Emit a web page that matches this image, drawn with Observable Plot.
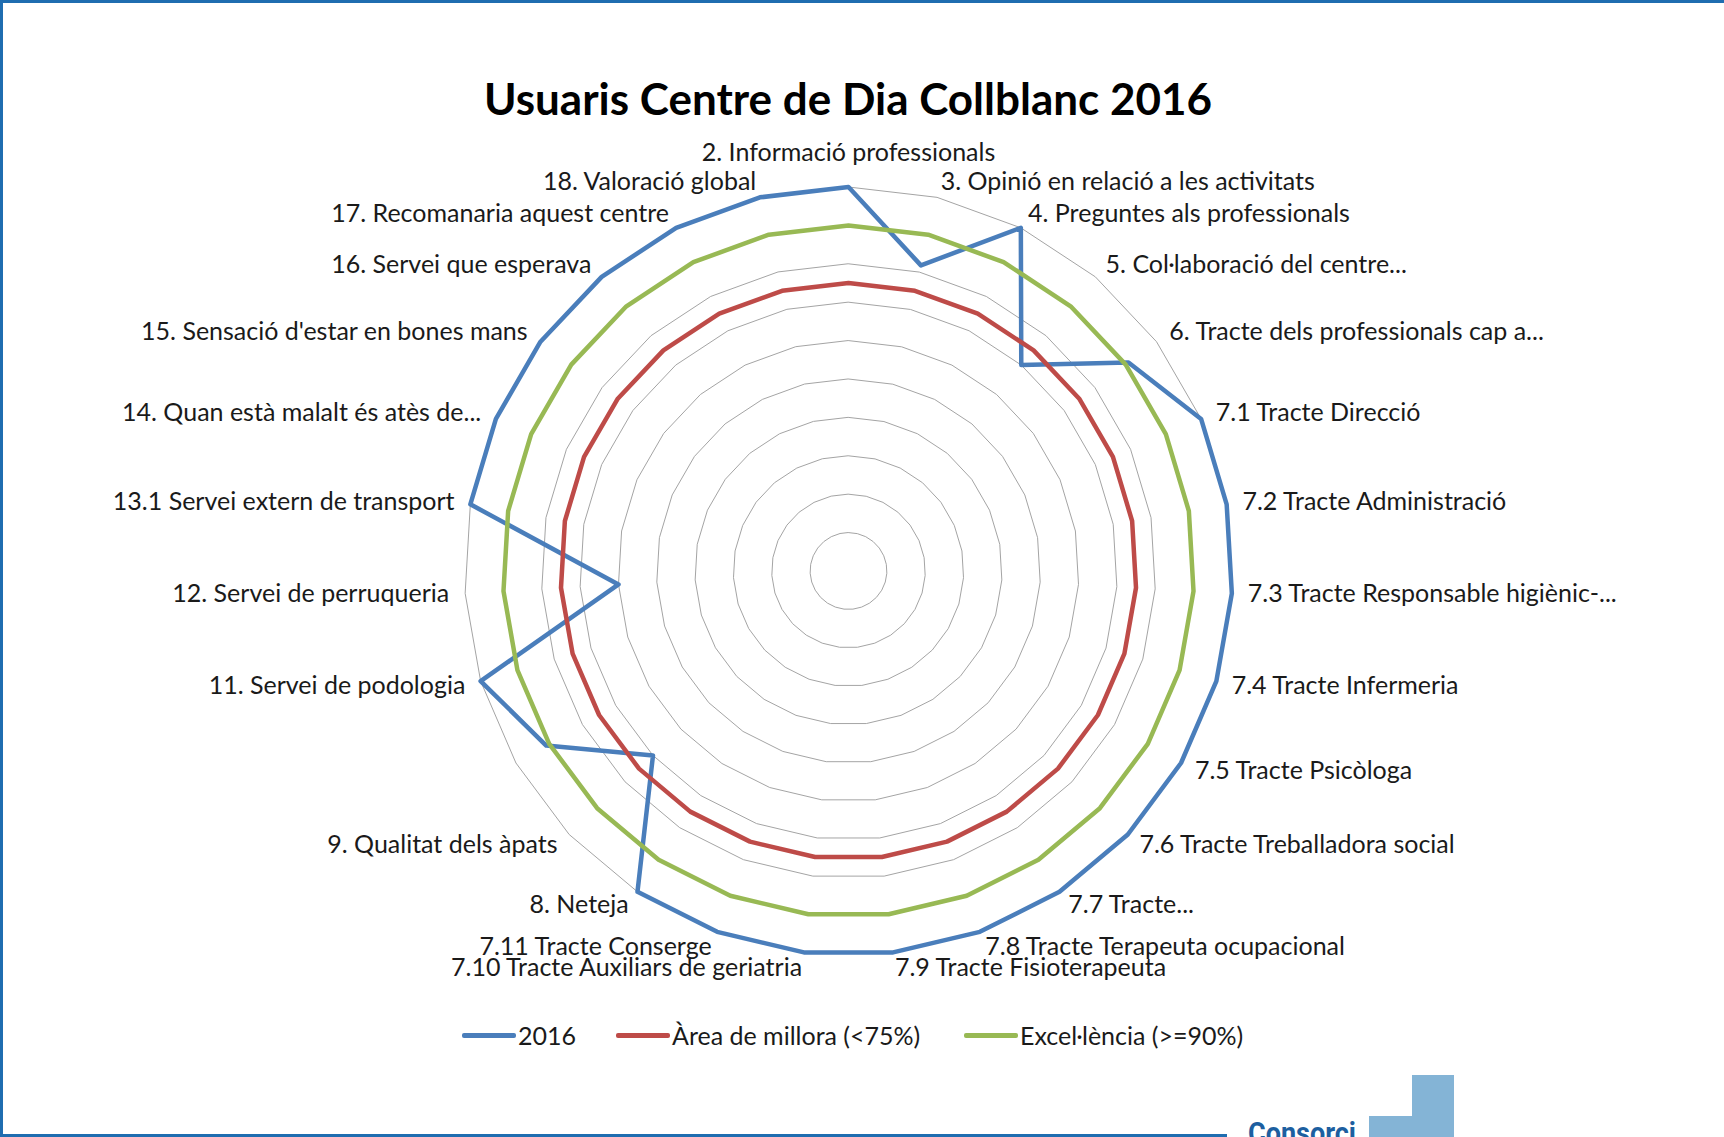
<!DOCTYPE html>
<html>
<head>
<meta charset="utf-8">
<script src="https://cdn.jsdelivr.net/npm/d3@7"></script>
<script src="https://cdn.jsdelivr.net/npm/@observablehq/plot@0.6"></script>
<style>
  html, body { margin: 0; padding: 0; background: #fff; width: 1724px; height: 1137px; overflow: hidden; font-family: Lato, "Open Sans", sans-serif; }
  #page { position: relative; width: 1724px; height: 1137px; }
  .bar { position: absolute; background: #1f6db0; }
  #title { position: absolute; left: 0; width: 1696px; top: 72px; line-height: 52px; text-align: center; font-weight: 700; font-size: 44px; color: #000; }
  #chart { position: absolute; left: 0; top: 130px; }
  .leg { position: absolute; top: 1020px; height: 30px; display: flex; align-items: center; font-size: 25px; color: #1a1a1a; }
  .leg .sw { width: 54px; height: 5px; border-radius: 2px; margin-right: 2px; }
  #logoText { position: absolute; left: 1248px; top: 1118px; font-family: Roboto, sans-serif; font-weight: 700; font-size: 30px; line-height: 1; color: #1d5fa0; transform: scaleX(0.9); transform-origin: left top; }
  .lb { position: absolute; background: #84b4d6; }
</style>
</head>
<body>
<div id="page">
  <div class="bar" style="left:0;top:0;width:1724px;height:3px"></div>
  <div class="bar" style="left:0;top:0;width:3px;height:1137px"></div>
  <div class="bar" style="left:0;top:1134px;width:1227px;height:3px"></div>
  <div id="title">Usuaris Centre de Dia Collblanc 2016</div>
  <div id="chart"></div>
  <div id="legend"></div>
  <div class="lb" style="left:1412px;top:1075px;width:42px;height:62px"></div>
  <div class="lb" style="left:1369px;top:1116px;width:44px;height:21px"></div>
  <div id="logoText">Consorci</div>
</div>
<script>
// ---- Data ----
const categories = [
  "2. Informació professionals",
  "3. Opinió en relació a les activitats",
  "4. Preguntes als professionals",
  "5. Col·laboració del centre...",
  "6. Tracte dels professionals cap a...",
  "7.1 Tracte Direcció",
  "7.2 Tracte Administració",
  "7.3 Tracte Responsable higiènic-...",
  "7.4 Tracte Infermeria",
  "7.5 Tracte Psicòloga",
  "7.6 Tracte Treballadora social",
  "7.7 Tracte...",
  "7.8 Tracte Terapeuta ocupacional",
  "7.9 Tracte Fisioterapeuta",
  "7.10 Tracte Auxiliars de geriatria",
  "7.11 Tracte Conserge",
  "8. Neteja",
  "9. Qualitat dels àpats",
  "",
  "11. Servei de podologia",
  "12. Servei de perruqueria",
  "13.1 Servei extern de transport",
  "14. Quan està malalt és atès de...",
  "15. Sensació d'estar en bones mans",
  "16. Servei que esperava",
  "17. Recomanaria aquest centre",
  "18. Valoració global"
];
const values2016 = [100, 81.8, 100, 70, 90.9, 100, 100, 100, 100, 100, 100, 100, 100, 100, 100, 100, 100, 70, 90.9, 100, 60, 100, 100, 100, 100, 100, 100];
const valuesMillora = [75, 75, 75, 75, 75, 75, 75, 75, 75, 75, 75, 75, 75, 75, 75, 75, 75, 75, 75, 75, 75, 75, 75, 75, 75, 75, 75];
const valuesExcel = [90, 90, 90, 90, 90, 90, 90, 90, 90, 90, 90, 90, 90, 90, 90, 90, 90, 90, 90, 90, 90, 90, 90, 90, 90, 90, 90];
const gridLevels = [10, 20, 30, 40, 50, 60, 70, 80, 90, 100];
const seriesNames = ["2016", "Àrea de millora (<75%)", "Excel·lència (>=90%)"];
const seriesColors = ["#4a7ebb", "#be4b48", "#98b954"];

// ---- Build ----
const N = categories.length;
const ang = i => 2 * Math.PI * i / N;
const polar = (vals, key) => vals.map((v, i) => ({ key, i, v, x: v * Math.sin(ang(i)), y: v * Math.cos(ang(i)) }));

const ringRows = gridLevels.flatMap(l => polar(categories.map(() => l), l));
const seriesRows = [values2016, valuesMillora, valuesExcel].map((vals, k) => polar(vals, seriesNames[k]));

const LR = 100 * 400 / 384; // label radius beyond outer ring
const labelRows = categories.map((c, i) => ({ text: c, i, s: Math.sin(ang(i)), x: LR * Math.sin(ang(i)), y: LR * Math.cos(ang(i)) })).filter(d => d.text !== "");

const txt = { x: "x", y: "y", text: "text", fontSize: 25, fill: "#1a1a1a" };

const chart = Plot.plot({
  width: 1724,
  height: 860,
  marginLeft: 464,
  marginRight: 492,
  marginTop: 56.5,
  marginBottom: 35.5,
  x: { domain: [-100, 100], axis: null },
  y: { domain: [-100, 100], axis: null },
  style: { fontFamily: "Lato, sans-serif", background: "transparent", overflow: "visible" },
  marks: [
    Plot.line(ringRows, { x: "x", y: "y", z: "key", curve: "linear-closed", stroke: "#a4a4a4", strokeWidth: 1 }),
    ...seriesRows.map((rows, k) => Plot.line(rows, { x: "x", y: "y", curve: "linear-closed", stroke: seriesColors[k], strokeWidth: 4.5, strokeLinejoin: "round" })),
    Plot.text(labelRows.filter(d => d.s > 0.01), { ...txt, textAnchor: "start" }),
    Plot.text(labelRows.filter(d => d.s < -0.01), { ...txt, textAnchor: "end" }),
    Plot.text(labelRows.filter(d => Math.abs(d.s) <= 0.01), { ...txt, textAnchor: "middle", lineAnchor: "bottom", dy: -10 })
  ]
});
document.getElementById("chart").appendChild(chart);

// ---- Legend ----
const legLeft = [462, 616, 964];
const legend = document.getElementById("legend");
seriesNames.forEach((name, k) => {
  const item = document.createElement("div");
  item.className = "leg";
  item.style.left = legLeft[k] + "px";
  const sw = document.createElement("div");
  sw.className = "sw";
  sw.style.background = seriesColors[k];
  const t = document.createElement("span");
  t.textContent = name;
  item.appendChild(sw);
  item.appendChild(t);
  legend.appendChild(item);
});
</script>
</body>
</html>
